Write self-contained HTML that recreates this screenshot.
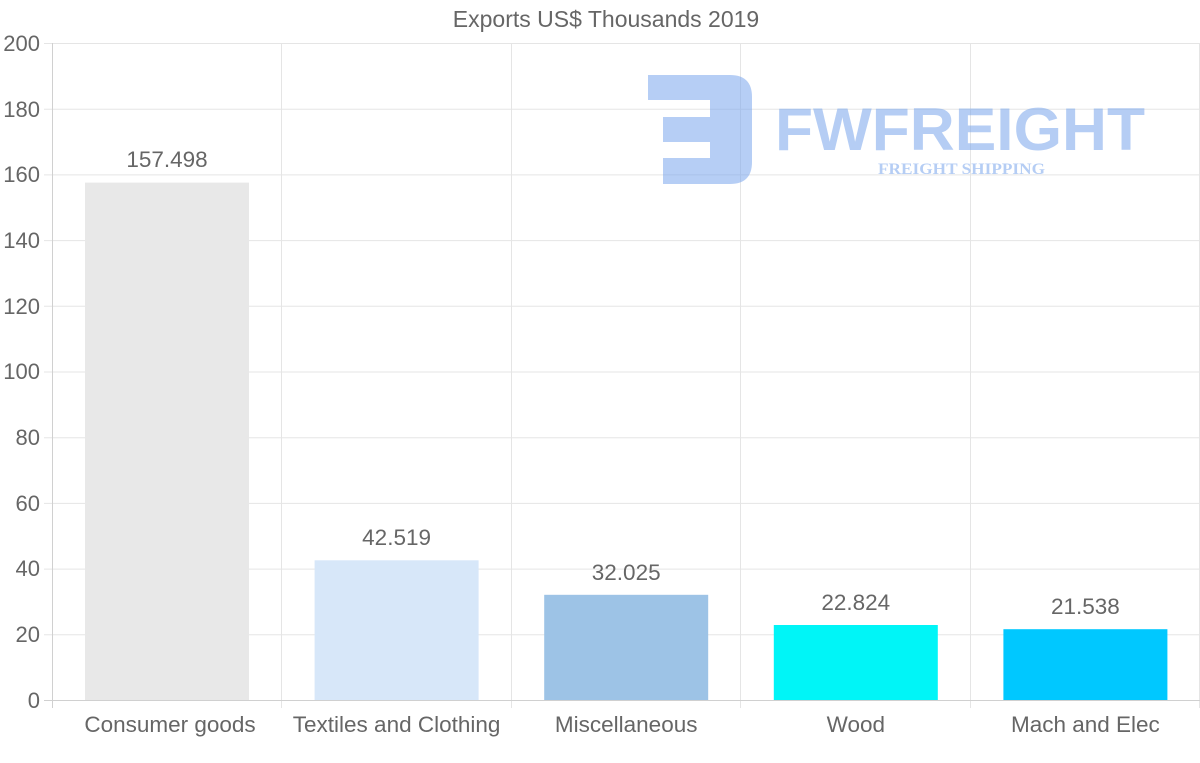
<!DOCTYPE html>
<html><head><meta charset="utf-8"><style>body{margin:0;background:#fff}svg{display:block}</style></head><body>
<svg width="1200" height="763" viewBox="0 0 1200 763" font-family="Liberation Sans, sans-serif">
<text x="606" y="27" font-size="23" fill="#666" text-anchor="middle">Exports US$ Thousands 2019</text>
<g stroke="#e5e5e5" stroke-width="1">
<line x1="44" y1="43.5" x2="1200" y2="43.5"/><line x1="44" y1="109.2" x2="1200" y2="109.2"/><line x1="44" y1="174.9" x2="1200" y2="174.9"/><line x1="44" y1="240.6" x2="1200" y2="240.6"/><line x1="44" y1="306.3" x2="1200" y2="306.3"/><line x1="44" y1="372" x2="1200" y2="372"/><line x1="44" y1="437.7" x2="1200" y2="437.7"/><line x1="44" y1="503.4" x2="1200" y2="503.4"/><line x1="44" y1="569.1" x2="1200" y2="569.1"/><line x1="44" y1="634.8" x2="1200" y2="634.8"/>
<line x1="281.5" y1="43" x2="281.5" y2="708"/><line x1="511.5" y1="43" x2="511.5" y2="708"/><line x1="740.5" y1="43" x2="740.5" y2="708"/><line x1="970.5" y1="43" x2="970.5" y2="708"/><line x1="1199.5" y1="43" x2="1199.5" y2="708"/>
</g>
<g stroke="#d0d0d0"><line x1="52.5" y1="43" x2="52.5" y2="708"/><line x1="44" y1="700.5" x2="1200" y2="700.5"/></g>
<g font-size="22" fill="#666" text-anchor="end">
<text x="40" y="51">200</text><text x="40" y="117">180</text><text x="40" y="182">160</text><text x="40" y="248">140</text><text x="40" y="314">120</text><text x="40" y="379">100</text><text x="40" y="445">80</text><text x="40" y="511">60</text><text x="40" y="576">40</text><text x="40" y="642">20</text><text x="40" y="708">0</text>
</g>
<g opacity="0.55" fill="#7aa6ec">
<path d="M648 75 H730 Q752 75 752 97 V162 Q752 184 730 184 H663 V158 H710 V142 H663 V117 H710 V100 H648 Z"/>
<text x="775" y="150" font-size="60" font-weight="bold" textLength="370" lengthAdjust="spacingAndGlyphs">FWFREIGHT</text>
<text x="878" y="174" font-size="16" font-weight="bold" font-family="Liberation Serif, serif" textLength="167" lengthAdjust="spacingAndGlyphs">FREIGHT SHIPPING</text>
</g>
<rect x="85" y="182.6" width="164" height="517.4" fill="#e8e8e8"/>
<rect x="314.6" y="560.3" width="164" height="139.7" fill="#d7e7f9"/>
<rect x="544.2" y="594.8" width="164" height="105.2" fill="#9dc3e6"/>
<rect x="773.8" y="625" width="164" height="75" fill="#00f5f7"/>
<rect x="1003.4" y="629.2" width="164" height="70.8" fill="#00c8ff"/>
<g font-size="22.5" fill="#666" text-anchor="middle">
<text x="167" y="167">157.498</text><text x="396.6" y="545">42.519</text><text x="626.2" y="580">32.025</text><text x="855.8" y="610">22.824</text><text x="1085.4" y="614">21.538</text>
</g>
<g font-size="22.5" fill="#666" text-anchor="middle">
<text x="170" y="732">Consumer goods</text><text x="396.6" y="732">Textiles and Clothing</text><text x="626.2" y="732">Miscellaneous</text><text x="855.8" y="732">Wood</text><text x="1085.4" y="732">Mach and Elec</text>
</g>
</svg>
</body></html>
